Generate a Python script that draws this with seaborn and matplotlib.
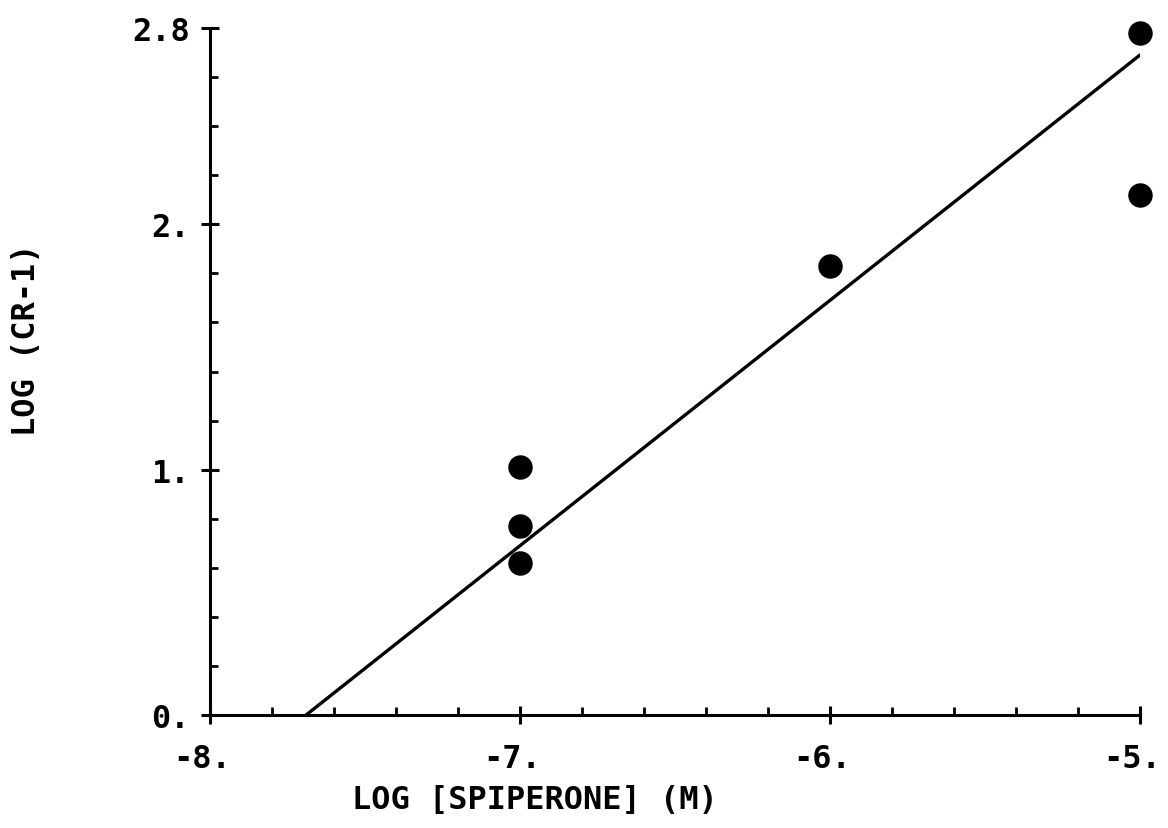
import matplotlib
matplotlib.use("Agg")
import matplotlib.pyplot as plt
import matplotlib.transforms as mtransforms
from matplotlib.ticker import MultipleLocator, FixedLocator
import seaborn as sns
import pandas as pd

# Measured responses: log spiperone concentration vs log(CR-1)
log_spiperone = [-7.0, -7.0, -7.0, -6.0, -5.0, -5.0]
log_cr_minus_1 = [1.01, 0.77, 0.62, 1.83, 2.78, 2.12]

# Fitted line endpoints
fit_x = [-7.69, -5.0]
fit_y = [0.0, 2.69]

x_ticks = [-8, -7, -6, -5]
x_tick_labels = ["-8.", "-7.", "-6.", "-5."]
y_ticks = [0, 1, 2, 2.8]
y_tick_labels = ["0.", "1.", "2.", "2.8"]

sns.set_style("ticks")
plt.rcParams["font.family"] = ["DejaVu Sans Mono", "DejaVu Sans"]
plt.rcParams["font.weight"] = "bold"
plt.rcParams["text.color"] = "black"
plt.rcParams["axes.labelcolor"] = "black"
plt.rcParams["xtick.color"] = "black"
plt.rcParams["ytick.color"] = "black"

fig = plt.figure(figsize=(11.68, 8.29), dpi=100)
ax = fig.add_axes([0.1798, 0.1363, 0.976 - 0.1798, 0.965 - 0.1363])

points = pd.DataFrame({"x": log_spiperone, "y": log_cr_minus_1})
fit = pd.DataFrame({"x": fit_x, "y": fit_y})

sns.lineplot(data=fit, x="x", y="y", ax=ax, color="black", linewidth=2.4)
sns.scatterplot(data=points, x="x", y="y", ax=ax, color="black", s=310,
                edgecolor="black", linewidth=0, clip_on=False, zorder=5)

ax.set_xlim(-8, -5)
ax.set_ylim(0, 2.8)

ax.xaxis.set_major_locator(FixedLocator(x_ticks))
ax.set_xticklabels(x_tick_labels, fontweight="bold")
ax.yaxis.set_major_locator(FixedLocator(y_ticks))
ax.set_yticklabels(y_tick_labels, fontweight="bold")
ax.xaxis.set_minor_locator(MultipleLocator(0.2))
ax.yaxis.set_minor_locator(MultipleLocator(0.2))

ax.tick_params(which="major", direction="inout", length=13, width=2.2,
               labelsize=23, color="black", labelcolor="black")
ax.tick_params(which="minor", direction="in", length=6, width=2.0, color="black")
ax.tick_params(axis="x", which="major", pad=14)
ax.tick_params(axis="y", which="major", pad=8)

# nudge the x tick labels slightly left of their ticks
shift = mtransforms.ScaledTranslation(-0.08, 0, fig.dpi_scale_trans)
for lbl in ax.get_xticklabels():
    lbl.set_transform(lbl.get_transform() + shift)

for side in ["top", "right"]:
    ax.spines[side].set_visible(False)
for side in ["left", "bottom"]:
    ax.spines[side].set_linewidth(2.2)
    ax.spines[side].set_color("black")

ax.set_xlabel("LOG [SPIPERONE] (M)", fontsize=23, fontweight="bold")
ax.set_ylabel("LOG (CR-1)", fontsize=23, fontweight="bold")
ax.xaxis.set_label_coords(0.349, -0.100)
ax.yaxis.set_label_coords(-0.181, 0.547)

fig.savefig("out.png", dpi=100, facecolor="white")
